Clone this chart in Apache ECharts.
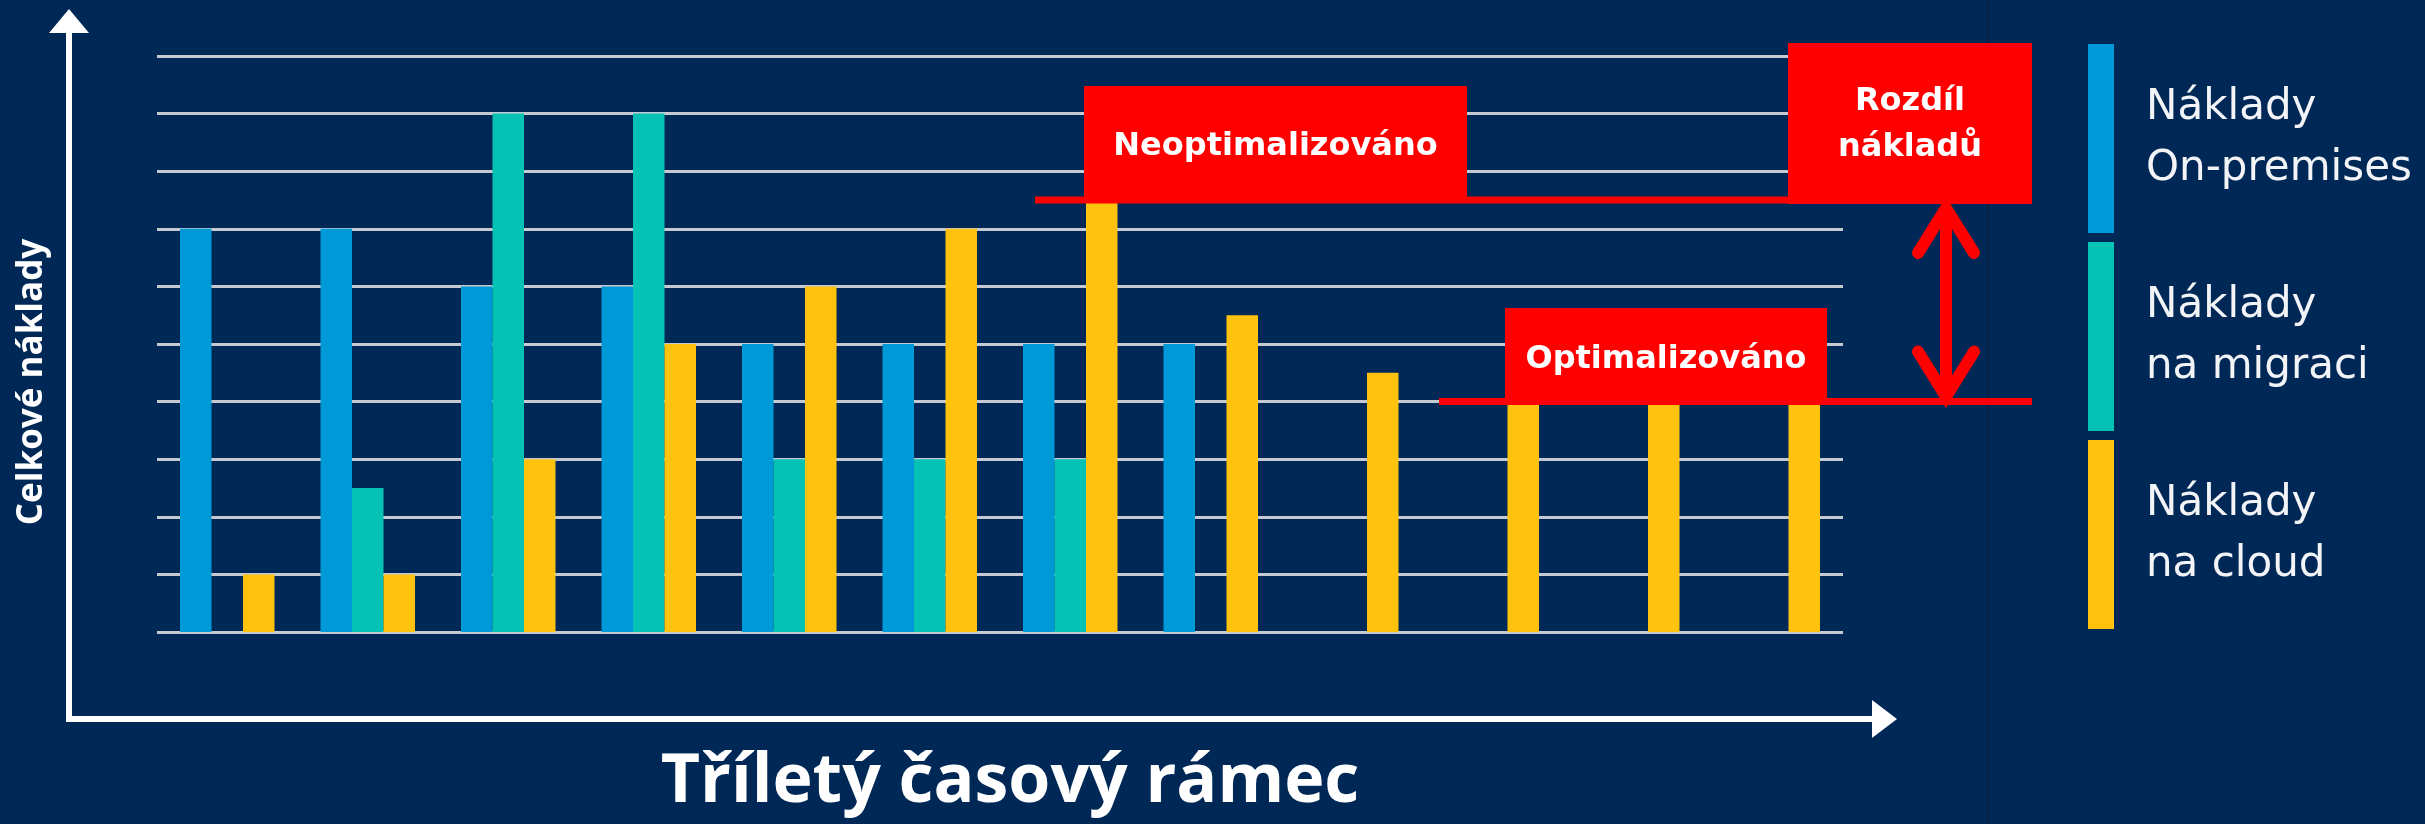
<!DOCTYPE html>
<html><head><meta charset="utf-8">
<script src="https://cdn.jsdelivr.net/npm/echarts@6/dist/echarts.min.js"></script>
<style>html,body{margin:0;padding:0;background:#002856;}#c{width:2425px;height:824px;}</style>
</head><body><div id="c"></div>
<script>
// ---- data ----
const categories = ['1','2','3','4','5','6','7','8','9','10','11','12'];
const seriesNames = ['Náklady\nOn-premises', 'Náklady\nna migraci', 'Náklady\nna cloud'];
const onPremisesCost = [7, 7, 6, 6, 5, 5, 5, 5, '-', '-', '-', '-'];
const migrationCost = ['-', 2.5, 9, 9, 3, 3, 3, '-', '-', '-', '-', '-'];
const cloudCost = [1, 1, 3, 5, 6, 7, 7.5, 5.5, 4.5, 4, 4, 4];
const yMin = 0, yMax = 10, yInterval = 1;
const unoptimizedLevel = 7.5;
const optimizedLevel = 4;
const xTitle = 'Tříletý časový rámec';
const yTitle = 'Celkové náklady';
const labelUnoptimized = 'Neoptimalizováno';
const labelOptimized = 'Optimalizováno';
const labelDifference = 'Rozdíl\nnákladů';

// ---- styles ----
const BG = '#002856';
const COLORS = ['#0099d8', '#06c2b4', '#ffc20e'];
const RED = '#ff0000';
const WHITE = '#ffffff';

const chart = echarts.init(document.getElementById('c'), null, {renderer: 'canvas'});
const barStyle = {barWidth: 31.5, barGap: '0%'};
chart.setOption({
  backgroundColor: BG,
  animation: false,
  color: COLORS,
  grid: {left: 157, top: 56, width: 1686, height: 576, containLabel: false},
  xAxis: {
    type: 'category', data: categories,
    axisLine: {show: false}, axisTick: {show: false}, axisLabel: {show: false}, splitLine: {show: false}
  },
  yAxis: {
    type: 'value', min: yMin, max: yMax, interval: yInterval,
    axisLine: {show: false}, axisTick: {show: false}, axisLabel: {show: false},
    splitLine: {show: true, lineStyle: {color: '#c4c9d2', width: 3}}
  },
  legend: {
    orient: 'vertical', left: 2088, top: 44, padding: 0,
    itemWidth: 26, itemHeight: 189, itemGap: 9, icon: 'rect',
    selectedMode: false,
    textStyle: {color: '#f2f4f7', fontSize: 42, lineHeight: 61, fontFamily: 'DejaVu Sans', padding: [0, 0, 0, 27]},
    data: seriesNames
  },
  series: [
    Object.assign({type: 'bar', name: seriesNames[0], data: onPremisesCost}, barStyle),
    Object.assign({type: 'bar', name: seriesNames[1], data: migrationCost}, barStyle),
    Object.assign({type: 'bar', name: seriesNames[2], data: cloudCost}, barStyle)
  ]
});

const yHigh = chart.convertToPixel({yAxisIndex: 0}, unoptimizedLevel);
const yLow = chart.convertToPixel({yAxisIndex: 0}, optimizedLevel);
const boxFont = 'bold 32px "DejaVu Sans"';
const arrowX = 1946;

chart.setOption({
  graphic: [
    // separator
    {type: 'rect', shape: {x: 1987, y: 0, width: 2, height: 824}, style: {fill: '#0c1f3f'}, z: 1},
    // axes
    {type: 'rect', shape: {x: 66, y: 30, width: 6, height: 692}, style: {fill: WHITE}},
    {type: 'polygon', shape: {points: [[69, 9], [49, 33], [89, 33]]}, style: {fill: WHITE}},
    {type: 'rect', shape: {x: 66, y: 716, width: 1810, height: 6}, style: {fill: WHITE}},
    {type: 'polygon', shape: {points: [[1897, 719], [1872, 700], [1872, 738]]}, style: {fill: WHITE}},
    // titles
    {type: 'text', x: 1010, y: 783, style: {text: xTitle, x: 0, y: 0, fill: WHITE, font: 'bold 68px "Open Sans"', align: 'center', verticalAlign: 'middle'}},
    {type: 'text', x: 32, y: 382, rotation: Math.PI / 2, style: {text: yTitle, x: 0, y: 0, fill: WHITE, font: 'bold 35px "Open Sans"', align: 'center', verticalAlign: 'middle'}},
    // unoptimized line and box
    {type: 'rect', z: 10, shape: {x: 1035, y: yHigh - 3.5, width: 997, height: 7}, style: {fill: RED}},
    {type: 'rect', z: 10, shape: {x: 1084, y: 86, width: 383, height: yHigh - 86}, style: {fill: RED}},
    {type: 'text', z: 11, x: 1275.5, y: 147, style: {text: labelUnoptimized, x: 0, y: 0, fill: WHITE, font: boxFont, align: 'center', verticalAlign: 'middle'}},
    // difference box
    {type: 'rect', z: 10, shape: {x: 1788, y: 43, width: 244, height: yHigh + 4 - 43}, style: {fill: RED}},
    {type: 'text', z: 11, x: 1910, y: 125, style: {text: labelDifference, x: 0, y: 0, fill: WHITE, font: boxFont, lineHeight: 46, align: 'center', verticalAlign: 'middle'}},
    // optimized line and box
    {type: 'rect', z: 10, shape: {x: 1439, y: yLow - 3.5, width: 593, height: 7}, style: {fill: RED}},
    {type: 'rect', z: 10, shape: {x: 1505, y: 308, width: 322, height: yLow - 308}, style: {fill: RED}},
    {type: 'text', z: 11, x: 1666, y: 360, style: {text: labelOptimized, x: 0, y: 0, fill: WHITE, font: boxFont, align: 'center', verticalAlign: 'middle'}},
    // double arrow
    {type: 'polyline', z: 10, shape: {points: [[arrowX, yHigh + 10], [arrowX, yLow - 6]]}, style: {stroke: RED, lineWidth: 12, fill: null}},
    {type: 'polyline', z: 10, shape: {points: [[arrowX - 28, yHigh + 53], [arrowX, yHigh + 8], [arrowX + 28, yHigh + 53]]}, style: {stroke: RED, lineWidth: 12, lineCap: 'round', lineJoin: 'miter', fill: null}},
    {type: 'polyline', z: 10, shape: {points: [[arrowX - 28, yLow - 50], [arrowX, yLow - 5], [arrowX + 28, yLow - 50]]}, style: {stroke: RED, lineWidth: 12, lineCap: 'round', lineJoin: 'miter', fill: null}}
  ]
});
</script>
</body></html>
